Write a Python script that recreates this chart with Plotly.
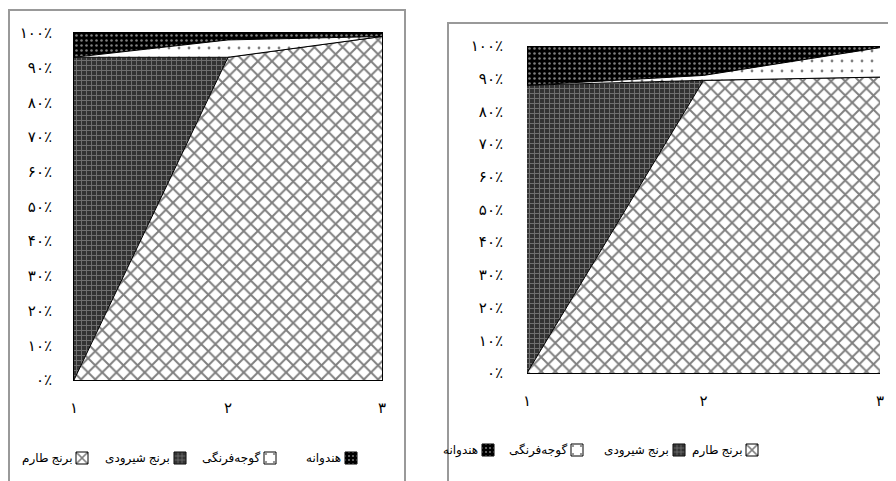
import plotly.graph_objects as go

# ---------------- data ----------------
categories = [1, 2, 3]
x_ticktext = ["۱", "۲", "۳"]
y_tickvals = [0, 10, 20, 30, 40, 50, 60, 70, 80, 90, 100]
y_ticktext = ["۰٪", "۱۰٪", "۲۰٪", "۳۰٪", "۴۰٪", "۵۰٪", "۶۰٪", "۷۰٪", "۸۰٪", "۹۰٪", "۱۰۰٪"]

series_names = ["برنج طارم", "برنج شیرودی", "گوجه‌فرنگی", "هندوانه"]

# left chart (percent of total)
tarom_left = [0, 93, 99]
shiroudi_left = [93, 0, 0]
tomato_left = [0, 5, 0]
watermelon_left = [7, 2, 1]

# right chart (percent of total)
tarom_right = [0, 89.5, 90.5]
shiroudi_right = [88, 0, 0]
tomato_right = [0, 1.5, 9]
watermelon_right = [12, 9, 0.5]

# ---------------- styles ----------------
patterns = [
    dict(shape="x", fgcolor="#000000", bgcolor="#ffffff", size=10, solidity=0.35),
    dict(shape="+", fgcolor="#b0b0b0", bgcolor="#333333", size=5, solidity=0.35),
    dict(shape=".", fgcolor="#000000", bgcolor="#ffffff", size=10, solidity=0.06),
    dict(shape=".", fgcolor="#ffffff", bgcolor="#000000", size=5, solidity=0.2),
]

FONT = "Liberation Serif, DejaVu Serif, DejaVu Sans, serif"

# the page body adds an 8px margin, so the figure is drawn 8px in from the window edge
OFF = 8
W, H = 896 - OFF, 481 - OFF

def px_x(v):
    return (v - OFF) / W

def px_y(v):
    return (H - (v - OFF)) / H

fig = go.Figure()

left_sets = [tarom_left, shiroudi_left, tomato_left, watermelon_left]
right_sets = [tarom_right, shiroudi_right, tomato_right, watermelon_right]

for name, vals, pat in zip(series_names, left_sets, patterns):
    fig.add_trace(go.Scatter(
        x=categories, y=vals, name=name, mode="lines",
        stackgroup="left", line=dict(color="#000000", width=1),
        fillpattern=pat, fillcolor=pat["bgcolor"],
        xaxis="x", yaxis="y", showlegend=False,
    ))

for name, vals, pat in zip(series_names, right_sets, patterns):
    fig.add_trace(go.Scatter(
        x=categories, y=vals, name=name, mode="lines",
        stackgroup="right", line=dict(color="#000000", width=1),
        fillpattern=pat, fillcolor=pat["bgcolor"],
        xaxis="x2", yaxis="y2", showlegend=False,
    ))

# RTL legends: one swatch per legend, label text placed to the left of the swatch
# (swatch center px, row center px)
left_legend_pos = [(82, 458), (180, 458), (270, 458), (351, 458)]
right_legend_pos = [(752, 450), (679, 450), (577, 450), (488, 450)]

annotations = []
legend_layouts = {}
idx = 1
for xa, ya, positions in [("x", "y", left_legend_pos), ("x2", "y2", right_legend_pos)]:
    for name, pat, (sx, cy) in zip(series_names, patterns, positions):
        leg_id = "legend" if idx == 1 else f"legend{idx}"
        fig.add_trace(go.Bar(
            x=[None], y=[None], name=" ", xaxis=xa, yaxis=ya, legend=leg_id,
            marker=dict(color=pat["bgcolor"], pattern=pat,
                        line=dict(color="#000000", width=1)),
            showlegend=True,
        ))
        legend_layouts[leg_id] = dict(
            x=px_x(sx - 20), y=px_y(cy), xanchor="left", yanchor="middle",
            orientation="h", bgcolor="rgba(0,0,0,0)", itemwidth=30,
            font=dict(family=FONT, size=6),
        )
        annotations.append(dict(
            text=name, xref="paper", yref="paper", x=px_x(sx - 9), y=px_y(cy),
            xanchor="right", yanchor="middle", showarrow=False, borderpad=0,
            font=dict(family=FONT, size=12, color="#000000"),
        ))
        idx += 1

axis_common = dict(showgrid=False, zeroline=False, ticks="", automargin=False,
                   tickfont=dict(family=FONT, size=15, color="#000000"))

fig.update_layout(
    width=W, height=H, autosize=False,
    margin=dict(l=0, r=0, t=0, b=0),
    paper_bgcolor="#ffffff", plot_bgcolor="#ffffff",
    font=dict(family=FONT, color="#000000"),
    showlegend=True,
    xaxis=dict(domain=[px_x(74), px_x(382)], range=[1, 3], anchor="y",
               tickvals=categories, ticktext=x_ticktext, ticklabelstandoff=14,
               showline=True, linecolor="#000000", linewidth=1, mirror=True,
               **axis_common),
    yaxis=dict(domain=[px_y(380), px_y(33)], range=[0, 100], anchor="x",
               tickvals=y_tickvals, ticktext=y_ticktext, ticklabelstandoff=18,
               showline=True, linecolor="#000000", linewidth=1, mirror=True,
               **axis_common),
    xaxis2=dict(domain=[px_x(527), px_x(880)], range=[1, 3], anchor="y2",
                tickvals=categories, ticktext=x_ticktext, ticklabelstandoff=14,
                showline=True, linecolor="#000000", linewidth=1,
                **axis_common),
    yaxis2=dict(domain=[px_y(373), px_y(46)], range=[0, 100], anchor="x2",
                tickvals=y_tickvals, ticktext=y_ticktext, ticklabelstandoff=23,
                showline=False,
                **axis_common),
    annotations=annotations,
    shapes=[
        dict(type="rect", xref="paper", yref="paper",
             x0=px_x(9), x1=px_x(405), y0=px_y(490), y1=px_y(10),
             line=dict(color="#999999", width=2), fillcolor="rgba(0,0,0,0)", layer="below"),
        dict(type="rect", xref="paper", yref="paper",
             x0=px_x(448), x1=px_x(905), y0=px_y(490), y1=px_y(23),
             line=dict(color="#999999", width=2), fillcolor="rgba(0,0,0,0)", layer="below"),
    ],
)
fig.update_layout(**legend_layouts)

fig.write_html("out.html")
